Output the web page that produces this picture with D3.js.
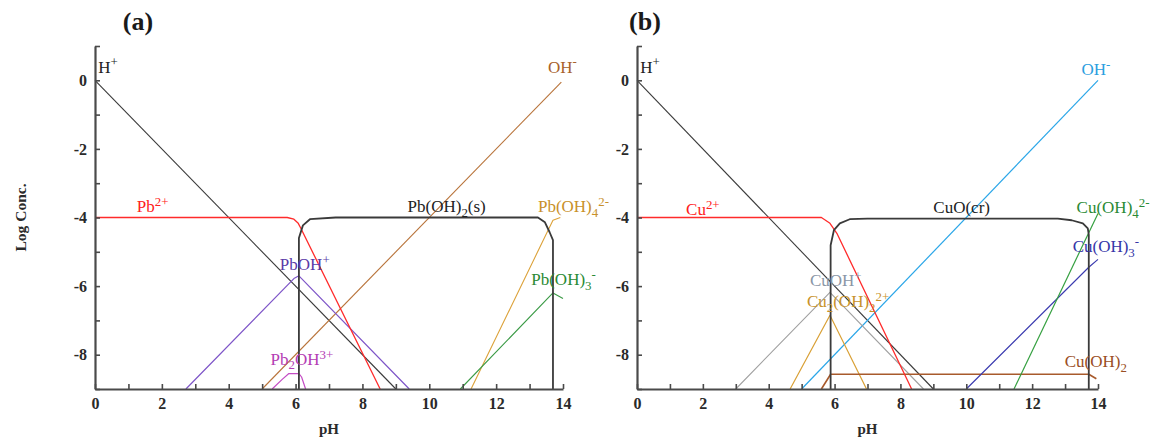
<!DOCTYPE html>
<html>
<head>
<meta charset="utf-8">
<script src="https://cdn.jsdelivr.net/npm/d3@7"></script>
<style>
  html, body { margin: 0; padding: 0; background: #fff; }
  svg { display: block; }
</style>
</head>
<body>
<svg id="chart" width="1154" height="437"></svg>
<script>
// ---- Axis ticks -----------------------------------------------------------
const pHTicks = d3.range(0, 15);          // 0 … 14
const logTicks = d3.range(-9, 2);         // -9 … 1

// ---- (a) Pb system: [pH, log concentration] -------------------------------
const aH      = [[0, 0], [9, -9]];
const aOH     = [[5, -9], [13.95, -0.05]];
const aPb     = [[0, -4], [5.75, -4], [5.95, -4.05], [6.08, -4.17], [6.15, -4.3], [8.53, -9]];
const aPbOH2s = [[6.1, -9], [6.1, -4.6], [6.22, -4.23], [6.43, -4.05], [7.2, -4.0], [13.25, -4.0],
                 [13.46, -4.14], [13.6, -4.43], [13.7, -4.66], [13.7, -9]];
const aPbOH   = [[2.72, -9], [5.95, -5.78], [6.1, -5.7], [9.4, -9]];
const aPb2OH  = [[5.3, -9], [5.6, -8.72], [5.8, -8.55], [6.1, -8.55], [6.18, -8.65], [6.3, -9]];
const aPbOH4  = [[11.25, -9], [13.55, -4.38], [13.7, -4.08], [13.92, -4.0]];
const aPbOH3  = [[10.93, -9], [13.7, -6.2], [14.0, -6.36]];

// ---- (b) Cu system: [pH, log concentration] -------------------------------
const bH      = [[0, 0], [9, -9]];
const bOH     = [[5, -9], [14, 0]];
const bCu     = [[0, -4], [5.6, -4], [5.86, -4.17], [6.07, -4.46], [8.34, -9]];
const bCuO    = [[5.88, -9], [5.88, -4.81], [5.98, -4.37], [6.16, -4.17], [6.46, -4.05], [7.0, -4.03],
                 [12.78, -4.03], [13.2, -4.08], [13.54, -4.17], [13.69, -4.32], [13.72, -4.5], [13.72, -9]];
const bCuOH   = [[3.0, -9], [5.86, -6.18], [8.7, -9]];
const bCu2OH2 = [[4.65, -9], [5.86, -6.85], [6.97, -9]];
const bCuOH2  = [[5.6, -9], [5.88, -8.57], [13.72, -8.57], [13.95, -8.7]];
const bCuOH3  = [[10.0, -9], [13.72, -5.45], [14.0, -5.22]];
const bCuOH4  = [[11.45, -9], [14.0, -3.88]];

// ---- Panel layout ----------------------------------------------------------
const svg = d3.select("#chart");
const serif = "'Liberation Serif', 'Times New Roman', serif";
const labelSize = 17;

const panels = [
  {
    tag: "(a)", tagX: 138, xRange: [95, 563], yLabel: "Log Conc.",
    series: [
      { data: aH,      color: "#3a3a3a", w: 1.1, label: "H^{+}",            at: [0.1, 0.22],   lc: "#222" },
      { data: aOH,     color: "#b8733a", w: 1.1, label: "OH^{-}",           at: [13.55, 0.22], lc: "#a8622a" },
      { data: aPbOH,   color: "#7e55c8", w: 1.2, label: "PbOH^{+}",         at: [5.53, -5.53], lc: "#5a3aa8" },
      { data: aPb2OH,  color: "#c44cc4", w: 1.2, label: "Pb_{2}OH^{3+}",    at: [5.25, -8.3],  lc: "#b43cb4" },
      { data: aPbOH4,  color: "#dca23a", w: 1.1, label: "Pb(OH)_{4}^{2-}",  at: [13.25, -3.85], lc: "#c8902a" },
      { data: aPbOH3,  color: "#3a9a45", w: 1.1, label: "Pb(OH)_{3}^{-}",   at: [13.05, -5.98], lc: "#2a8a35" },
      { data: aPb,     color: "#ff2b2b", w: 1.3, label: "Pb^{2+}",          at: [1.25, -3.85], lc: "#ff2020" },
      { data: aPbOH2s, color: "#3a3a3a", w: 1.8, label: "Pb(OH)_{2}(s)",    at: [9.35, -3.85], lc: "#222" }
    ]
  },
  {
    tag: "(b)", tagX: 645, xRange: [637, 1098], yLabel: null,
    series: [
      { data: bH,      color: "#3a3a3a", w: 1.1, label: "H^{+}",             at: [0.1, 0.22],   lc: "#222" },
      { data: bOH,     color: "#2aa6e8", w: 1.2, label: "OH^{-}",            at: [13.5, 0.15],  lc: "#2a9ee0" },
      { data: bCuOH,   color: "#a0a0a0", w: 1.1, label: "CuOH^{+}",          at: [5.25, -6.0],  lc: "#8a96a6" },
      { data: bCu2OH2, color: "#d9a035", w: 1.2, label: "Cu_{2}(OH)_{2}^{2+}", at: [5.16, -6.62], lc: "#c8922a" },
      { data: bCuOH2,  color: "#a85a2c", w: 1.6, label: "Cu(OH)_{2}",        at: [12.99, -8.37], lc: "#9a4e24" },
      { data: bCuOH3,  color: "#3c3cb0", w: 1.2, label: "Cu(OH)_{3}^{-}",    at: [13.23, -5.01], lc: "#3535a8" },
      { data: bCuOH4,  color: "#35a040", w: 1.2, label: "Cu(OH)_{4}^{2-}",   at: [13.35, -3.88], lc: "#2a8a35" },
      { data: bCu,     color: "#ff2b2b", w: 1.3, label: "Cu^{2+}",           at: [1.49, -3.94], lc: "#ff2020" },
      { data: bCuO,    color: "#3a3a3a", w: 1.8, label: "CuO(cr)",           at: [9.0, -3.88],  lc: "#222" }
    ]
  }
];

// Writes "Pb(OH)_{4}^{2-}" style markup as tspans with sub/superscripts.
function richText(textSel, str, size) {
  const re = /([_^])\{([^}]*)\}|([^_^]+)/g;
  let shift = 0, m;
  const small = size * 0.76;
  while ((m = re.exec(str)) !== null) {
    let target, fs, txt;
    if (m[3] !== undefined) { target = 0; fs = size; txt = m[3]; }
    else if (m[1] === "^") { target = -size * 0.38; fs = small; txt = m[2]; }
    else { target = size * 0.26; fs = small; txt = m[2]; }
    textSel.append("tspan")
      .attr("dy", target - shift)
      .attr("font-size", fs)
      .text(txt);
    shift = target;
  }
}

panels.forEach(p => {
  const x = d3.scaleLinear().domain([0, 14]).range(p.xRange);
  const y = d3.scaleLinear().domain([-9, 1]).range([389, 46]);
  const g = svg.append("g");

  // species curves
  const line = d3.line().x(d => x(d[0])).y(d => y(d[1]));
  p.series.forEach(s => {
    g.append("path")
      .attr("d", line(s.data))
      .attr("fill", "none")
      .attr("stroke", s.color)
      .attr("stroke-width", s.w)
      .attr("stroke-linejoin", "round");
  });

  // axes
  const xAxis = d3.axisBottom(x).tickValues(pHTicks)
    .tickSizeInner(-5).tickSizeOuter(0).tickPadding(9)
    .tickFormat(d => d % 2 === 0 ? d : "");
  const yAxis = d3.axisLeft(y).tickValues(logTicks)
    .tickSizeInner(-5).tickSizeOuter(0).tickPadding(8)
    .tickFormat(d => (d % 2 === 0 && d <= 0) ? String(d) : "");

  [g.append("g").attr("transform", `translate(0,${y(-9)})`).call(xAxis),
   g.append("g").attr("transform", `translate(${x(0)},0)`).call(yAxis)].forEach(a => {
    a.select(".domain").attr("stroke", "#4a4a4a").attr("stroke-width", 2.2);
    a.selectAll(".tick line").attr("stroke", "#4a4a4a").attr("stroke-width", 1.6);
    a.selectAll(".tick text")
      .attr("font-family", serif).attr("font-weight", "bold")
      .attr("font-size", 16).attr("fill", "#2a2a2a");
  });

  // species labels
  p.series.forEach(s => {
    const t = g.append("text")
      .attr("x", x(s.at[0])).attr("y", y(s.at[1]))
      .attr("font-family", serif).attr("font-size", labelSize)
      .attr("fill", s.lc);
    richText(t, s.label, labelSize);
  });

  // axis titles
  g.append("text")
    .attr("x", (p.xRange[0] + p.xRange[1]) / 2).attr("y", 434)
    .attr("text-anchor", "middle")
    .attr("font-family", serif).attr("font-weight", "bold").attr("font-size", 15)
    .attr("fill", "#2a2a2a").text("pH");

  if (p.yLabel) {
    g.append("text")
      .attr("transform", `translate(26,${(y(-9) + y(1)) / 2}) rotate(-90)`)
      .attr("text-anchor", "middle")
      .attr("font-family", serif).attr("font-weight", "bold").attr("font-size", 15.5)
      .attr("fill", "#2a2a2a").text(p.yLabel);
  }

  // panel tag
  g.append("text")
    .attr("x", p.tagX).attr("y", 30)
    .attr("text-anchor", "middle")
    .attr("font-family", serif).attr("font-weight", "bold").attr("font-size", 26)
    .attr("fill", "#1a1a1a").text(p.tag);
});
</script>
</body>
</html>
